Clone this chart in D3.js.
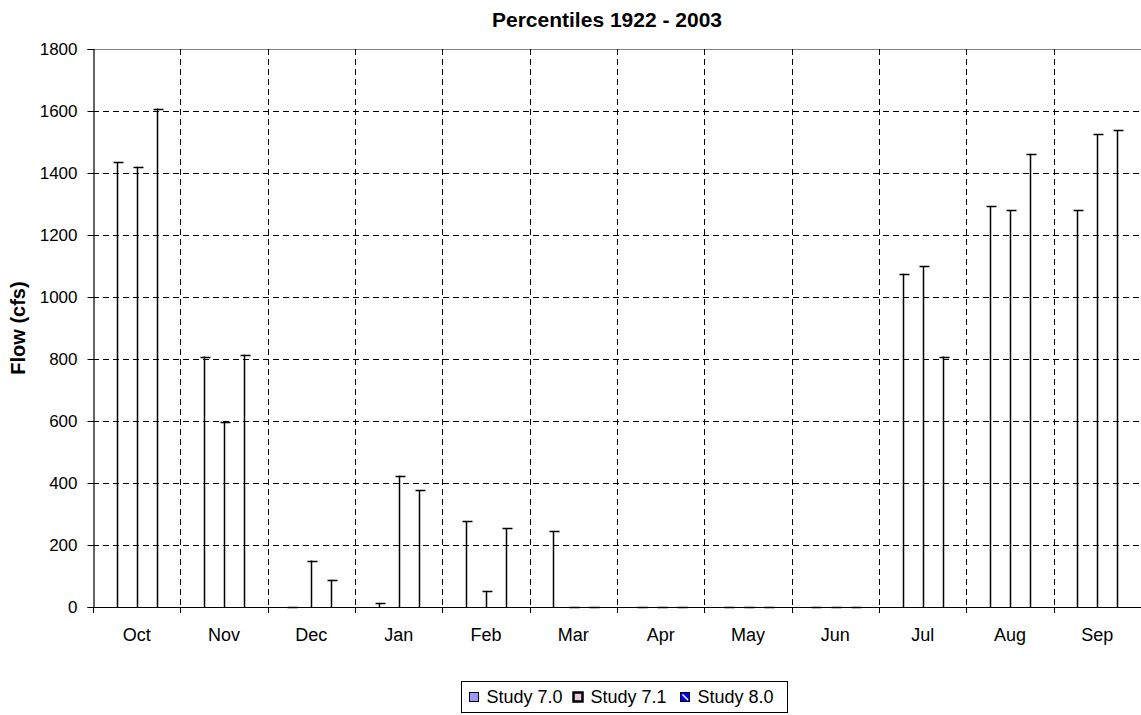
<!DOCTYPE html>
<html>
<head>
<meta charset="utf-8">
<script src="https://cdn.jsdelivr.net/npm/d3@7"></script>
<style>
  body { margin: 0; background: #fff; }
  text { font-family: "Liberation Sans", Arial, sans-serif; fill: #000; }
</style>
</head>
<body>
<div id="chart"></div>
<script>
// chart data
const months = ["Oct", "Nov", "Dec", "Jan", "Feb", "Mar", "Apr", "May", "Jun", "Jul", "Aug", "Sep"];
const seriesNames = ["Study 7.0", "Study 7.1", "Study 8.0"];
const study70 = [1435, 808, 0, 12, 277, 245, 0, 0, 0, 1075, 1292, 1280];
const study71 = [1420, 597, 150, 424, 52, 0, 0, 0, 0, 1100, 1280, 1525];
const study80 = [1608, 814, 88, 376, 254, 0, 0, 0, 0, 808, 1462, 1538];
const yTicks = [0, 200, 400, 600, 800, 1000, 1200, 1400, 1600, 1800];

const seriesValues = [study70, study71, study80];

const width = 1141;
const height = 715;
const margin = { top: 49, right: 0, bottom: 108, left: 93 };

const svg = d3.select("#chart")
              .append("svg")
              .attr("width", width)
              .attr("height", height);

const x = d3.scaleBand()
            .domain(months)
            .range([margin.left, width - margin.right]);

const xInner = d3.scaleBand()
                 .domain(seriesNames)
                 .range([-30, 30]);

const y = d3.scaleLinear()
            .domain([0, 1800])
            .range([height - margin.bottom, margin.top]);

const plotBottom = height - margin.bottom;

// horizontal grid
svg.append("g")
   .selectAll("line")
   .data(yTicks.filter(d => d > 0 && d < 1800))
   .enter()
   .append("line")
   .attr("x1", margin.left)
   .attr("x2", width - margin.right)
   .attr("y1", d => Math.round(y(d)) + 0.5)
   .attr("y2", d => Math.round(y(d)) + 0.5)
   .attr("stroke", "#000")
   .attr("stroke-dasharray", "6,4");

// top border line at 1800
svg.append("line")
   .attr("x1", margin.left)
   .attr("x2", width)
   .attr("y1", Math.round(y(1800)) + 0.5)
   .attr("y2", Math.round(y(1800)) + 0.5)
   .attr("stroke", "#808080");

// vertical grid between months
svg.append("g")
   .selectAll("line")
   .data(months.slice(1))
   .enter()
   .append("line")
   .attr("x1", d => Math.round(x(d)) + 0.5)
   .attr("x2", d => Math.round(x(d)) + 0.5)
   .attr("y1", y(1800))
   .attr("y2", plotBottom)
   .attr("stroke", "#000")
   .attr("stroke-dasharray", "6,4");

// y axis
const yAxis = svg.append("g")
   .attr("transform", `translate(${margin.left + 0.5}, 0)`)
   .call(d3.axisLeft(y).tickValues(yTicks).tickFormat(d3.format("d")).tickSize(6).tickPadding(10));
yAxis.select(".domain").attr("stroke", "#000").attr("stroke-width", 1.2);
yAxis.selectAll("text")
     .attr("font-size", 17)
     .attr("font-family", "Liberation Sans, Arial, sans-serif");

// x axis line + ticks at month boundaries
svg.append("line")
   .attr("x1", margin.left)
   .attr("x2", width)
   .attr("y1", Math.round(plotBottom) + 0.5)
   .attr("y2", Math.round(plotBottom) + 0.5)
   .attr("stroke", "#000")
   .attr("stroke-width", 1.2);

svg.append("g")
   .selectAll("line")
   .data(months)
   .enter()
   .append("line")
   .attr("x1", d => Math.round(x(d)) + 0.5)
   .attr("x2", d => Math.round(x(d)) + 0.5)
   .attr("y1", plotBottom)
   .attr("y2", plotBottom + 6)
   .attr("stroke", "#000");

svg.append("g")
   .selectAll("text")
   .data(months)
   .enter()
   .append("text")
   .attr("x", d => x(d) + x.bandwidth() / 2)
   .attr("y", 641)
   .attr("font-size", 18)
   .style("text-anchor", "middle")
   .text(d => d);

// bars drawn as stems with a cap on top
const flat = [];
months.forEach((m, i) => {
  seriesNames.forEach((s, j) => {
    flat.push({ month: m, series: s, value: seriesValues[j][i] });
  });
});

const stems = svg.append("g")
   .selectAll("g")
   .data(flat)
   .enter()
   .append("g")
   .attr("transform", d => `translate(${Math.round(x(d.month) + x.bandwidth() / 2 + xInner(d.series) + xInner.bandwidth() / 2) + 0.5}, 0)`);

stems.append("line")
     .attr("x1", 0)
     .attr("x2", 0)
     .attr("y1", plotBottom)
     .attr("y2", d => y(d.value))
     .attr("stroke", "#000")
     .attr("stroke-width", 1.5);

stems.append("line")
     .attr("x1", -4)
     .attr("x2", 6)
     .attr("y1", d => Math.round(y(d.value)) + 0.5)
     .attr("y2", d => Math.round(y(d.value)) + 0.5)
     .attr("stroke", "#000")
     .attr("stroke-width", 1.5);

// title
svg.append("text")
   .attr("x", 722)
   .attr("y", 27)
   .attr("font-size", 21)
   .attr("font-weight", "bold")
   .style("text-anchor", "end")
   .text("Percentiles 1922 - 2003");

// y label
svg.append("text")
   .attr("transform", `translate(25, ${(y(0) + y(1800)) / 2}) rotate(-90)`)
   .attr("font-size", 20)
   .attr("font-weight", "bold")
   .style("text-anchor", "middle")
   .text("Flow (cfs)");

// legend
const legend = svg.append("g").attr("transform", "translate(461.5, 681.5)");
legend.append("rect")
      .attr("width", 326)
      .attr("height", 31)
      .attr("fill", "#fff")
      .attr("stroke", "#000");

const legendX = [8, 112, 219];
const items = legend.selectAll(".item")
      .data(seriesNames)
      .enter()
      .append("g")
      .attr("class", "item")
      .attr("transform", (d, i) => `translate(${legendX[i]}, 0)`);

items.append("rect")
     .attr("x", 0)
     .attr("y", 11)
     .attr("width", 9)
     .attr("height", 9)
     .attr("fill", (d, i) => ["#9999ff", "#e8c8d8", "#0000ff"][i])
     .attr("stroke", "#000")
     .attr("stroke-width", (d, i) => i === 1 ? 2.5 : 1);

items.filter((d, i) => i === 2)
     .append("path")
     .attr("d", "M2,13 L7.5,18.5")
     .attr("stroke", "#fff")
     .attr("stroke-width", 1.5);

items.append("text")
     .attr("x", 17)
     .attr("y", 21)
     .attr("font-size", 18)
     .text(d => d);
</script>
</body>
</html>
